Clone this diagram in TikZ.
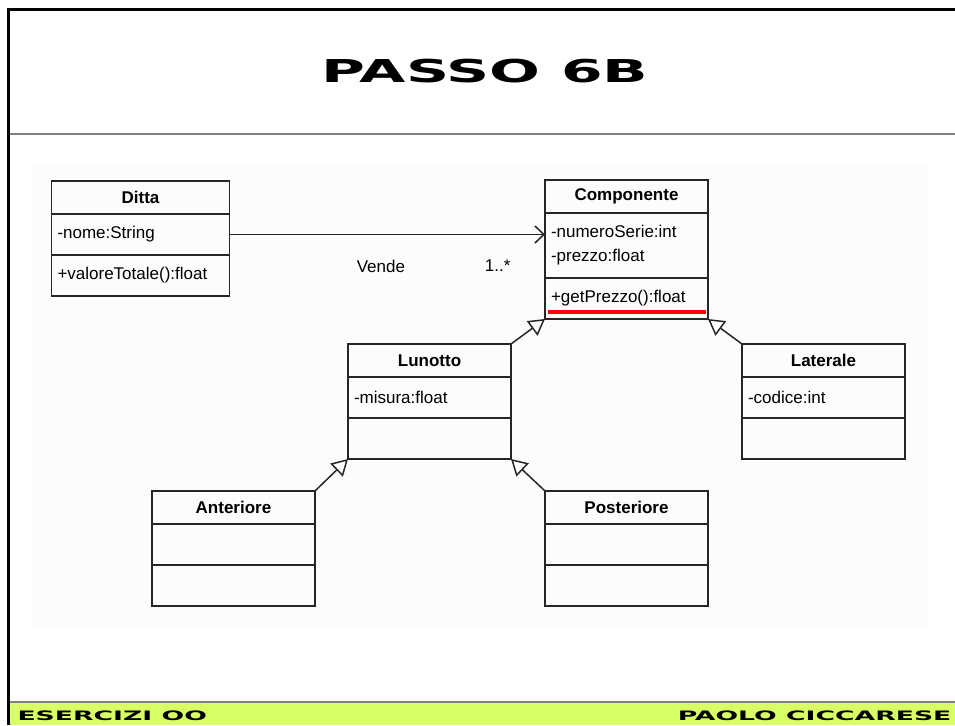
\documentclass[tikz,border=0pt]{standalone}
\usepackage{fontspec}
\setmainfont{Liberation Sans}
\newfontfamily\slidefont[FakeStretch=1.9]{DejaVu Sans}
\newfontfamily\footfont[FakeStretch=2.05]{DejaVu Sans}
\usetikzlibrary{positioning,arrows.meta,calc}

\definecolor{footgreen}{RGB}{217,255,102}
\definecolor{panelgray}{RGB}{252,252,252}

\tikzset{
  head/.style={draw=black!85,line width=1.5pt,outer sep=0pt,minimum height=33pt,
    font=\fontsize{17}{20}\selectfont\bfseries},
  part/.style={draw=black!85,line width=1.5pt,outer sep=0pt,minimum height=41pt,
    inner xsep=6pt,align=left,font=\fontsize{17}{24}\selectfont},
  gen/.style={draw=black!85,line width=1.5pt,-{Triangle[length=16pt,width=18pt,fill=white]}},
  assoc/.style={draw=black!85,line width=1.5pt,-{Straight Barb[length=9pt,width=17pt]}},
}

\begin{document}
\begin{tikzpicture}[x=1pt,y=-1pt,font=\fontsize{17}{24}\selectfont]
\useasboundingbox (0,0) rectangle (955,725);
% slide frame
\fill[panelgray] (33,163) rectangle (927,626);
\fill[footgreen] (8,702) rectangle (955,725);
\draw[gray,line width=2.5pt] (8,702) -- (955,702);
\draw[gray,line width=1.5pt] (8,134) -- (955,134);
\draw[line width=3pt] (8,725) -- (8,10) -- (955,10);
\node[font={\fontsize{31.5}{35}\slidefont\bfseries}] (title) at (485,71.5) {PASSO 6B};
\node[font={\fontsize{13}{14}\footfont\bfseries},anchor=west] (footl) at (14,716) {ESERCIZI OO};
\node[font={\fontsize{13}{14}\footfont\bfseries},anchor=east] (footr) at (955,716) {PAOLO CICCARESE};

% classes
\node[head,minimum width=178pt] (ditta) at (140.5,197.5) {Ditta};
\node[part,text width=166pt,below=0pt of ditta] (ditta-a) {-nome:String};
\node[part,text width=166pt,below=0pt of ditta-a] (ditta-o) {+valoreTotale():float};

\node[head,minimum width=163pt] (comp) at (626.5,196.5) {Componente};
\node[part,text width=151pt,minimum height=65pt,below=0pt of comp] (comp-a) {-numeroSerie:int\\-prezzo:float};
\node[part,text width=151pt,below=0pt of comp-a] (comp-o) {+getPrezzo():float};

\node[head,minimum width=163pt] (lun) at (429.5,360.5) {Lunotto};
\node[part,text width=151pt,below=0pt of lun] (lun-a) {-misura:float};
\node[part,text width=151pt,below=0pt of lun-a] (lun-o) {};

\node[head,minimum width=163pt] (lat) at (823.5,360.5) {Laterale};
\node[part,text width=151pt,below=0pt of lat] (lat-a) {-codice:int};
\node[part,text width=151pt,below=0pt of lat-a] (lat-o) {};

\node[head,minimum width=163pt] (ant) at (233.5,507.5) {Anteriore};
\node[part,text width=151pt,below=0pt of ant] (ant-a) {};
\node[part,text width=151pt,below=0pt of ant-a] (ant-o) {};

\node[head,minimum width=163pt] (post) at (626.5,507.5) {Posteriore};
\node[part,text width=151pt,below=0pt of post] (post-a) {};
\node[part,text width=151pt,below=0pt of post-a] (post-o) {};

\draw[red,line width=3.5pt] ($(comp-o.south west)+(3,-7)$) -- ($(comp-o.south east)+(-2,-7)$);

% links
\draw[assoc] (ditta-a.east) -- (ditta-a.east -| comp-a.west)
  node[pos=0.48,below=22pt] (vende) {Vende}
  node[pos=0.85,below=21pt] (mult) {1..*};
\draw[gen] (lun.north east) -- (comp-o.south west);
\draw[gen] (lat.north west) -- (comp-o.south east);
\draw[gen] (ant.north east) -- (lun-o.south west);
\draw[gen] (post.north west) -- (lun-o.south east);
\end{tikzpicture}
\end{document}
